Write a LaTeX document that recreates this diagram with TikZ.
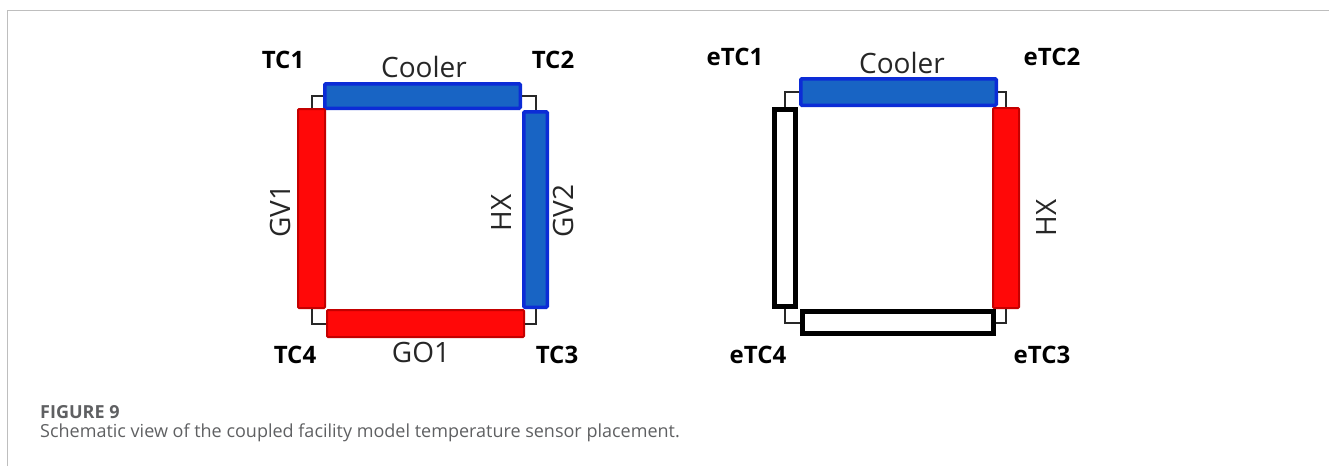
\documentclass[tikz,border=0pt]{standalone}
\usepackage{fontspec}
\setmainfont{Open Sans}
\usepackage{xcolor}
\usepackage{tikz}
\definecolor{figline}{RGB}{40,40,40}
\definecolor{hotfill}{RGB}{255,8,8}
\definecolor{hotedge}{RGB}{196,0,0}
\definecolor{coldfill}{RGB}{24,100,196}
\definecolor{coldedge}{RGB}{12,44,214}
\definecolor{framegray}{RGB}{190,190,190}
\definecolor{capgray}{RGB}{95,96,98}
\tikzset{
  hot/.style  ={draw=hotedge, fill=hotfill, line width=2pt, inner sep=0pt, rounded corners=1pt},
  cold/.style ={draw=coldedge, fill=coldfill, line width=3.5pt, inner sep=0pt, rounded corners=1pt},
  idle/.style ={draw=black, fill=white, line width=5pt, inner sep=0pt},
  pipe/.style ={draw=figline, line width=2pt},
  lab/.style  ={font=\fontsize{28}{28}\selectfont, text=black!85, inner sep=0pt},
  labb/.style ={font=\fontsize{24}{24}\selectfont\bfseries, inner sep=0pt, anchor=base},
  capt/.style ={font=\fontsize{18}{20}\selectfont, text=capgray, inner sep=0pt, anchor=base west},
}

\begin{document}
\begin{tikzpicture}[x=1pt,y=-1pt]
  \useasboundingbox (0,0) rectangle (1329,466);
  \draw[draw=framegray,line width=1.5pt] (7.5,466) -- (7.5,10.5) -- (1329,10.5);
  % left loop
  \node[cold,minimum width=195.5pt,minimum height=24.5pt] (cool) at (422.5,96) {};
  \node[hot,minimum width=27pt,minimum height=199pt] (gv1) at (311.5,208.5) {};
  \node[cold,minimum width=23.5pt,minimum height=195.5pt] (gv2) at (535.5,209.5) {};
  \node[hot,minimum width=197pt,minimum height=27pt] (go1) at (425.5,323.5) {};
  \draw[pipe] (gv1.north) |- (cool.west);
  \draw[pipe] (cool.east) -| (gv2.north);
  \draw[pipe] (gv1.south) |- (go1.west);
  \draw[pipe] (go1.east) -| (gv2.south);
  \node[labb] (tc1) at (283,68) {TC1};
  \node[labb] (tc2) at (553,68) {TC2};
  \node[labb] (tc3) at (557,363) {TC3};
  \node[labb] (tc4) at (295,363) {TC4};
  \node[lab,anchor=base] (coolname) at (424,77) {Cooler};
  \node[lab,anchor=base] (go1name) at (421,362) {GO1};
  \node[lab,rotate=90] (gv1name) at (280,211) {GV1};
  \node[lab,rotate=90] (hxname) at (501,213) {HX};
  \node[lab,rotate=90] (gv2name) at (563,211) {GV2};
  % right loop
  \node[cold,minimum width=195.5pt,minimum height=26.5pt] (ecool) at (898.5,92) {};
  \node[idle,minimum width=21pt,minimum height=197pt] (eleft) at (785,208) {};
  \node[hot,minimum width=26pt,minimum height=200pt] (ehx) at (1006,208) {};
  \node[idle,minimum width=191pt,minimum height=22pt] (ebot) at (898,322.5) {};
  \draw[pipe] (eleft.north) |- (ecool.west);
  \draw[pipe] (ecool.east) -| (ehx.north);
  \draw[pipe] (eleft.south) |- (ebot.west);
  \draw[pipe] (ebot.east) -| (ehx.south);
  \node[labb] (etc1) at (735,65) {eTC1};
  \node[labb] (etc2) at (1052,65) {eTC2};
  \node[labb] (etc3) at (1042,363) {eTC3};
  \node[labb] (etc4) at (758,363) {eTC4};
  \node[lab,anchor=base] (ecoolname) at (902,73) {Cooler};
  \node[lab,rotate=90] (ehxname) at (1046,218) {HX};
  % caption
  \node[capt,font=\fontsize{18}{20}\selectfont\bfseries] (fignum) at (40,418) {FIGURE 9};
  \node[capt] (figtext) at (40,437) {Schematic view of the coupled facility model temperature sensor placement.};
\end{tikzpicture}
\end{document}
